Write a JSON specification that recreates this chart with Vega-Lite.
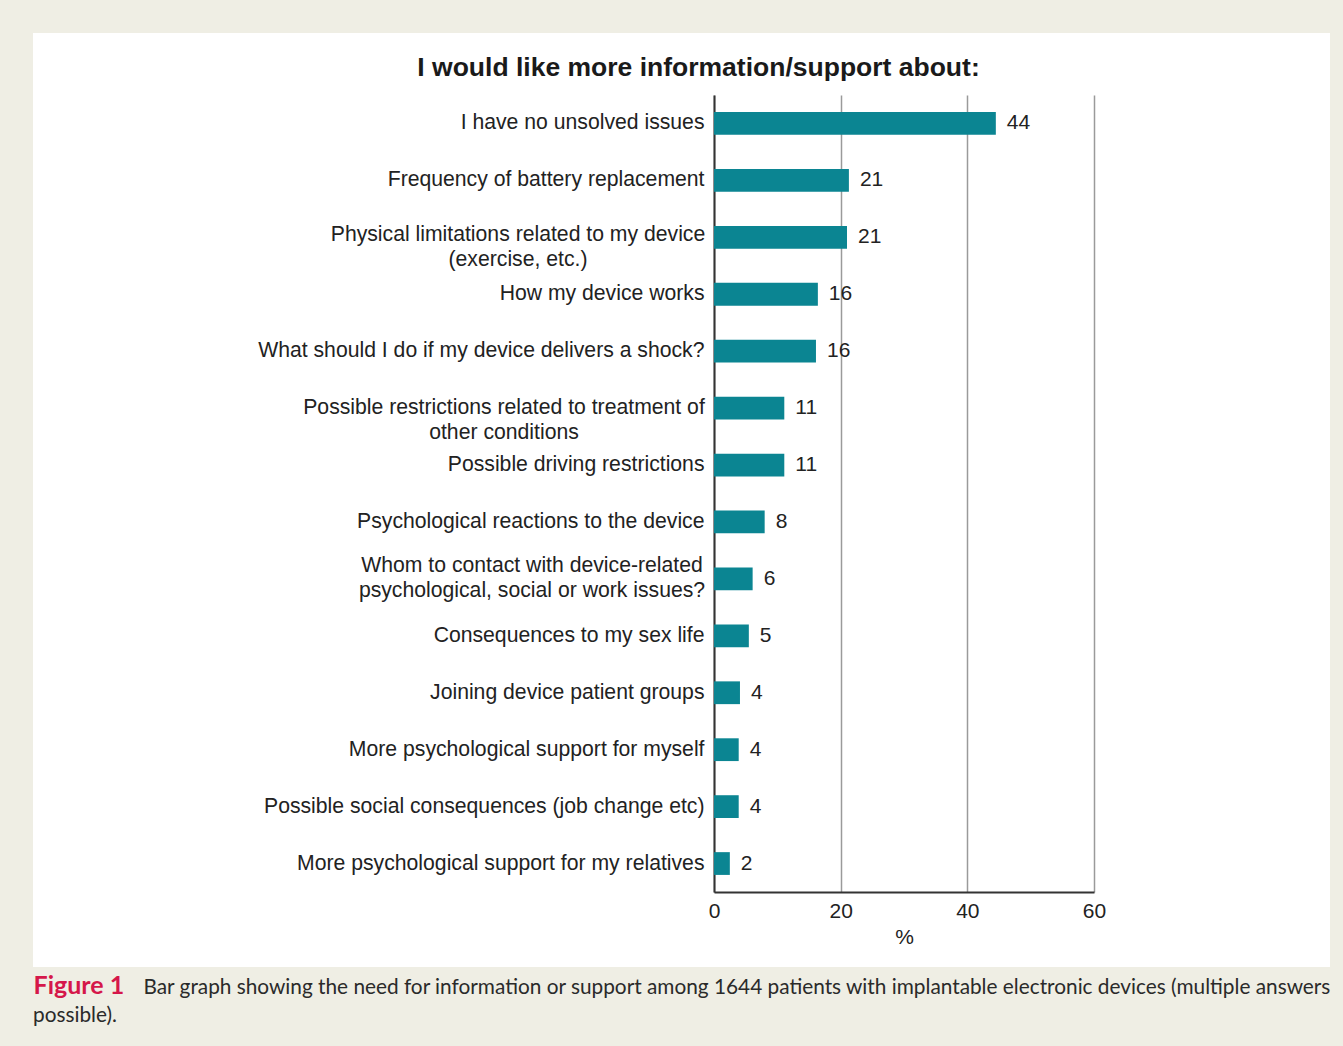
{
  "$schema": "https://vega.github.io/schema/vega-lite/v6.json",
  "autosize": {"type": "none"},
  "width": 1297,
  "height": 934,
  "padding": {"left": 33, "top": 33, "right": 13, "bottom": 79},
  "background": "#efeee4",
  "config": {
    "view": {"fill": "white", "stroke": null},
    "font": "Liberation Sans"
  },
  "title": {
    "text": "possible).",
    "orient": "bottom",
    "anchor": "start",
    "frame": "group",
    "font": "Lato",
    "fontSize": 20.8,
    "fontWeight": "normal",
    "color": "#2a2a2a",
    "baseline": "alphabetic",
    "offset": 24
  },
  "data": {
    "values": [
      {"q": "I have no unsolved issues", "value": 44.5, "label": "44"},
      {"q": "Frequency of battery replacement", "value": 21.3, "label": "21"},
      {"q": "Physical limitations related to my device|(exercise, etc.)", "value": 21.0, "label": "21"},
      {"q": "How my device works", "value": 16.4, "label": "16"},
      {"q": "What should I do if my device delivers a shock?", "value": 16.1, "label": "16"},
      {"q": "Possible restrictions related to treatment of|other conditions", "value": 11.1, "label": "11"},
      {"q": "Possible driving restrictions", "value": 11.1, "label": "11"},
      {"q": "Psychological reactions to the device", "value": 8.0, "label": "8"},
      {"q": "Whom to contact with device-related|psychological, social or work issues?", "value": 6.1, "label": "6"},
      {"q": "Consequences to my sex life", "value": 5.5, "label": "5"},
      {"q": "Joining device patient groups", "value": 4.1, "label": "4"},
      {"q": "More psychological support for myself", "value": 3.9, "label": "4"},
      {"q": "Possible social consequences (job change etc)", "value": 3.9, "label": "4"},
      {"q": "More psychological support for my relatives", "value": 2.5, "label": "2"}
    ]
  },
  "encoding": {
    "y": {
      "field": "q",
      "type": "nominal",
      "sort": null,
      "scale": {"range": [62, 859], "paddingInner": 0.6, "paddingOuter": 0.3}
    },
    "x": {
      "field": "value",
      "type": "quantitative",
      "scale": {"domain": [0, 60], "range": [681, 1061], "nice": false}
    }
  },
  "layer": [
    {
      "mark": {"type": "bar", "color": "#0b8592"},
      "encoding": {
        "y": {
          "field": "q",
          "type": "nominal",
          "sort": null,
          "axis": {
            "orient": "left",
            "offset": -681,
            "domain": true,
            "domainColor": "#333333",
            "domainWidth": 2,
            "ticks": false,
            "grid": false,
            "labelPadding": {"condition": [
              {"test": "indexof(datum.value, 'Whom') == 0", "value": 182.5},
              {"test": "indexof(datum.value, 'Physical') == 0", "value": 196.5},
              {"test": "indexof(datum.value, 'Possible restrictions') == 0", "value": 210.5}
            ], "value": 10},
            "labelAlign": {"condition": {"test": "indexof(datum.value, '|') >= 0", "value": "center"}, "value": "right"},
            "labelFont": "Liberation Sans",
            "labelFontSize": 21.2,
            "labelColor": "#222222",
            "labelLimit": 0,
            "labelLineHeight": 25,
            "labelExpr": "split(datum.label, '|')",
            "labelOffset": {"condition": [
              {"test": "indexof(datum.value, 'Whom') == 0", "value": -13},
              {"test": "indexof(datum.value, 'Physical') == 0", "value": -2}
            ], "value": 0},
            "title": "I would like more information/support about:",
            "titleAngle": 0,
            "titleX": -16,
            "titleY": 42,
            "titleAlign": "center",
            "titleBaseline": "alphabetic",
            "titleFont": "Liberation Sans",
            "titleFontSize": 26.5,
            "titleFontWeight": "bold",
            "titleColor": "#1a1a1a"
          }
        },
        "x": {
          "field": "value",
          "type": "quantitative",
          "axis": {
            "orient": "bottom",
            "offset": -75,
            "values": [0, 20, 40, 60],
            "domain": true,
            "domainColor": "#333333",
            "domainWidth": 2,
            "ticks": false,
            "grid": false,
            "labelFlush": false,
            "labelPadding": 8,
            "labelFont": "Liberation Sans",
            "labelFontSize": 21,
            "labelColor": "#222222",
            "title": "%",
            "titleFont": "Liberation Sans",
            "titleFontSize": 21,
            "titleFontWeight": "normal",
            "titleColor": "#222222",
            "titlePadding": 5
          }
        }
      }
    },
    {
      "mark": {"type": "text", "align": "left", "baseline": "middle", "dx": 11, "fontSize": 21, "font": "Liberation Sans", "color": "#222222"},
      "encoding": {
        "text": {"field": "label"},
        "y": {
          "field": "q",
          "type": "nominal",
          "sort": null,
          "axis": {
            "orient": "right",
            "domain": false,
            "ticks": false,
            "labels": false,
            "grid": false,
            "title": "Figure 1",
            "titleAngle": 0,
            "titleX": -1297,
            "titleY": 960,
            "titleAlign": "left",
            "titleBaseline": "alphabetic",
            "titleFont": "Lato",
            "titleFontSize": 25,
            "titleFontWeight": "bold",
            "titleColor": "#d5174a"
          }
        },
        "x": {
          "field": "value",
          "type": "quantitative",
          "axis": {
            "orient": "top",
            "values": [0, 20, 40, 60],
            "domain": false,
            "ticks": false,
            "labels": false,
            "grid": true,
            "gridColor": "#9a9a9a",
            "gridWidth": 1.5,
            "title": "Bar graph showing the need for information or support among 1644 patients with implantable electronic devices (multiple answers",
            "titleX": 110,
            "titleY": 960,
            "titleAlign": "left",
            "titleAnchor": "start",
            "titleBaseline": "alphabetic",
            "titleFont": "Lato",
            "titleFontSize": 20.8,
            "titleFontWeight": "normal",
            "titleColor": "#2a2a2a",
            "titleLimit": 0
          }
        }
      }
    }
  ],
  "resolve": {"axis": {"x": "independent", "y": "independent"}}
}
